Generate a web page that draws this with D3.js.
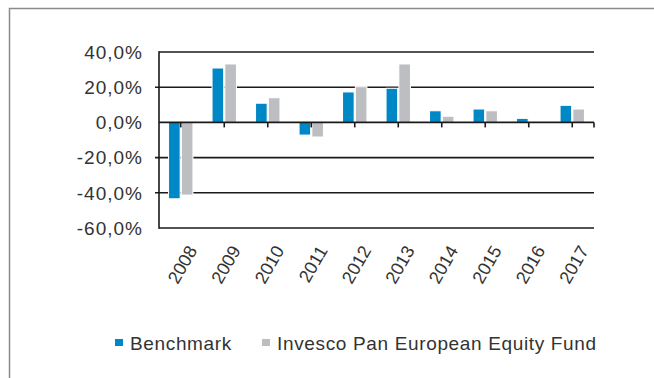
<!DOCTYPE html>
<html><head><meta charset="utf-8">
<script src="https://cdn.jsdelivr.net/npm/d3@7"></script>
<style>body{margin:0;background:#fff}svg{display:block}</style>
</head><body>
<svg id="c" width="654" height="378"></svg>
<script>
const years = ["2008","2009","2010","2011","2012","2013","2014","2015","2016","2017"];
const benchmark = [-43.4, 30.9, 10.9, -7.2, 17.3, 19.4, 6.6, 7.6, 2.3, 9.7];
const fund = [-41.3, 33.2, 14.0, -8.3, 20.3, 33.2, 3.5, 6.6, 0, 7.6];
const yTicks = [40, 20, 0, -20, -40, -60];
const seriesNames = ["Benchmark", "Invesco Pan European Equity Fund"];
const colors = ["#0088c6", "#bdbec1"];

const svg = d3.select("#c");
// outer frame
svg.append("path").attr("d","M9.5,378 V8.5 H654").attr("fill","none").attr("stroke","#8a8a8a").attr("stroke-width",1.5);

const x0 = 159, x1 = 594;
const x = d3.scaleBand().domain(years).range([x0, x1]);
const y = d3.scaleLinear().domain([-60, 40]).range([228, 52]);
const fmt = v => d3.format(".1f")(v).replace(".", ",").replace("−","-") + "%";

// gridlines
const g = svg.append("g");
yTicks.forEach(t => {
  if (t === 0) return;
  const ext = (t === 20 || t === -20 || t === -40) ? 4 : 0;
  g.append("line").attr("x1", x0 - ext).attr("x2", x1).attr("y1", y(t)).attr("y2", y(t))
    .attr("stroke", "#1a1a1a").attr("stroke-width", 1.6);
});
// y axis line
g.append("line").attr("x1", x0).attr("x2", x0).attr("y1", y(40)-0.8).attr("y2", y(-60)+0.8).attr("stroke","#1a1a1a").attr("stroke-width",1.6);

// y labels
svg.append("g").selectAll("text").data(yTicks).join("text")
  .attr("x", 143).attr("y", d => y(d)).attr("dy", "0.36em")
  .attr("text-anchor", "end")
  .style("font-family", "'Liberation Sans', Arial, sans-serif").style("font-size", "19px")
  .style("letter-spacing", "1px").attr("fill", "#333").text(fmt);

// bars
const bw = 11.6;
const series = [benchmark, fund];
series.forEach((vals, si) => {
  svg.append("g").selectAll("rect").data(years).join("rect")
    .attr("x", (d) => x(d) + x.bandwidth()/2 - bw - 0.6 + si*(bw + 1.2))
    .attr("width", bw)
    .attr("y", (d, i) => Math.min(y(vals[i]), y(0)))
    .attr("height", (d, i) => Math.abs(y(vals[i]) - y(0)))
    .attr("fill", colors[si]).attr("stroke", "#fff").attr("stroke-width", 1);
});

// zero line with ticks
const z = svg.append("g");
z.append("line").attr("x1", x0).attr("x2", x1).attr("y1", y(0)).attr("y2", y(0)).attr("stroke","#1a1a1a").attr("stroke-width",1.6);
years.forEach(d => {
  z.append("line").attr("x1", x(d)+x.bandwidth()/2).attr("x2", x(d)+x.bandwidth()/2)
    .attr("y1", y(0)).attr("y2", y(0)+5).attr("stroke","#1a1a1a").attr("stroke-width",1.6);
});
z.append("line").attr("x1", x1).attr("x2", x1).attr("y1", y(0)).attr("y2", y(0)+5).attr("stroke","#1a1a1a").attr("stroke-width",1.6);

// x labels
svg.append("g").selectAll("text").data(years).join("text")
  .attr("transform", d => `translate(${x(d)+x.bandwidth()/2+6},${244}) rotate(-60)`)
  .attr("text-anchor", "end").attr("dy", "0.7em")
  .style("font-family", "'Liberation Sans', Arial, sans-serif").style("font-size", "18px")
  .attr("fill", "#333").text(d => d);

// legend
const leg = svg.append("g");
const legX = [115, 262];
seriesNames.forEach((n, i) => {
  leg.append("rect").attr("x", legX[i]).attr("y", 339).attr("width", 8).attr("height", 7).attr("fill", colors[i]);
  leg.append("text").attr("x", legX[i] + 15).attr("y", 350)
    .style("font-family", "'Liberation Sans', Arial, sans-serif").style("font-size", "19px")
    .style("letter-spacing", "0.65px").attr("fill", "#333").text(n);
});
</script>
</body></html>
